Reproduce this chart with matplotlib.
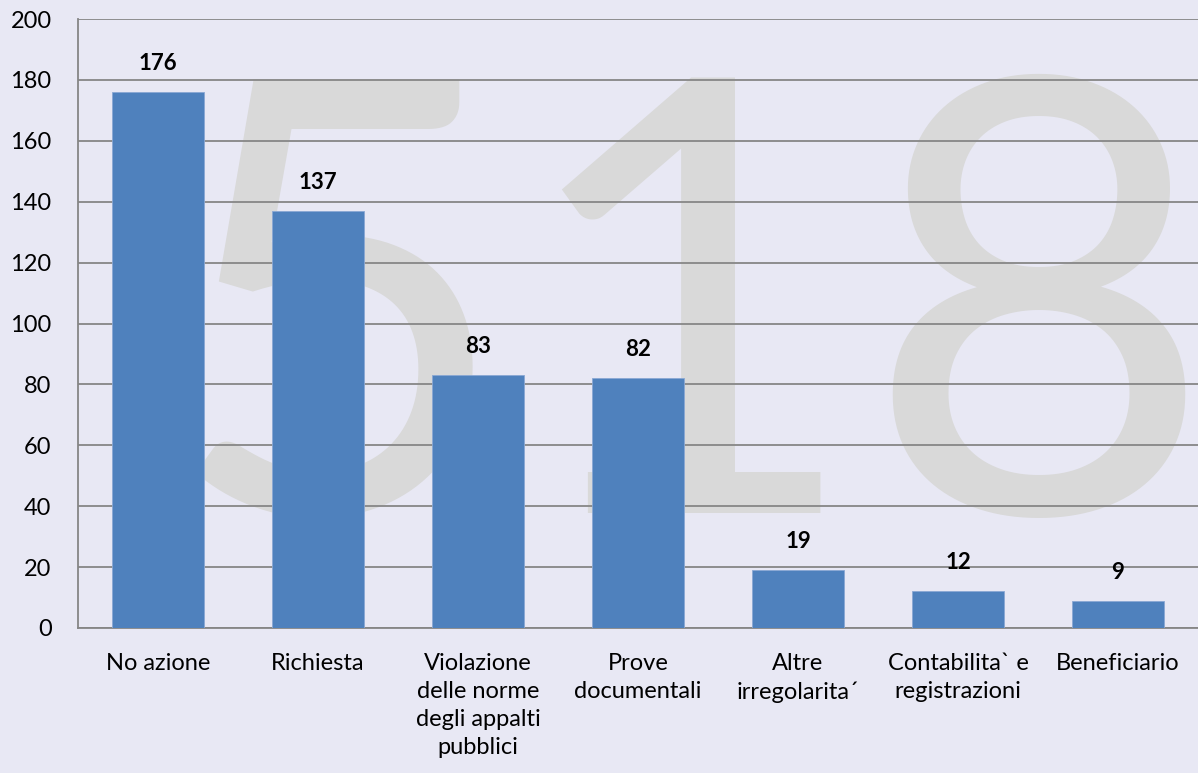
import matplotlib
matplotlib.use("Agg")
import matplotlib.pyplot as plt
import numpy as np

categories = [
    "No azione",
    "Richiesta",
    "Violazione\ndelle norme\ndegli appalti\npubblici",
    "Prove\ndocumentali",
    "Altre\nirregolarita\u00b4",
    "Contabilita` e\nregistrazioni",
    "Beneficiario",
]
values = [176, 137, 83, 82, 19, 12, 9]
watermark = "518"

plt.rcParams["font.family"] = ["Lato", "DejaVu Sans"]

bg = "#E8E8F4"
grid_col = "#868686"
bar_col = "#4F81BD"

fig = plt.figure(figsize=(11.98, 7.73), dpi=100, facecolor=bg)
ax = fig.add_axes([78 / 1198, 1 - 628 / 773, 1 - 78 / 1198, (628 - 19) / 773])
ax.set_facecolor("none")

# big grey number behind the bars and grid
ax.text(688 / 1198, 1 - 513 / 773, watermark, transform=fig.transFigure,
        fontsize=436, color="#D9D9D9", ha="center", va="baseline",
        zorder=0.1, clip_on=False)

x = np.arange(len(categories))
ax.bar(x, values, width=0.58, color=bar_col, edgecolor="#8AA8D4",
       linewidth=0.6, zorder=3)

for xi, v in zip(x, values):
    ax.annotate(str(v), (xi, v), xytext=(0, 13), textcoords="offset points",
                ha="center", va="bottom", fontsize=16, fontweight="bold",
                color="black", zorder=4)

ax.set_xlim(-0.5, len(categories) - 0.5)
ax.set_ylim(0, 200)
ax.set_yticks(np.arange(0, 201, 20))
ax.yaxis.grid(True, color=grid_col, linewidth=1.3)
ax.set_axisbelow(True)

ax.set_xticks(x)
ax.set_xticklabels(categories, fontsize=17, linespacing=1.42)
ax.tick_params(axis="x", length=0, pad=18)
ax.tick_params(axis="y", length=0, pad=19, labelsize=17)

for s in ["top", "right"]:
    ax.spines[s].set_visible(False)
for s in ["left", "bottom"]:
    ax.spines[s].set_color(grid_col)
    ax.spines[s].set_linewidth(1.3)
    ax.spines[s].set_zorder(2)

fig.savefig("out.png", dpi=100, facecolor=bg)
